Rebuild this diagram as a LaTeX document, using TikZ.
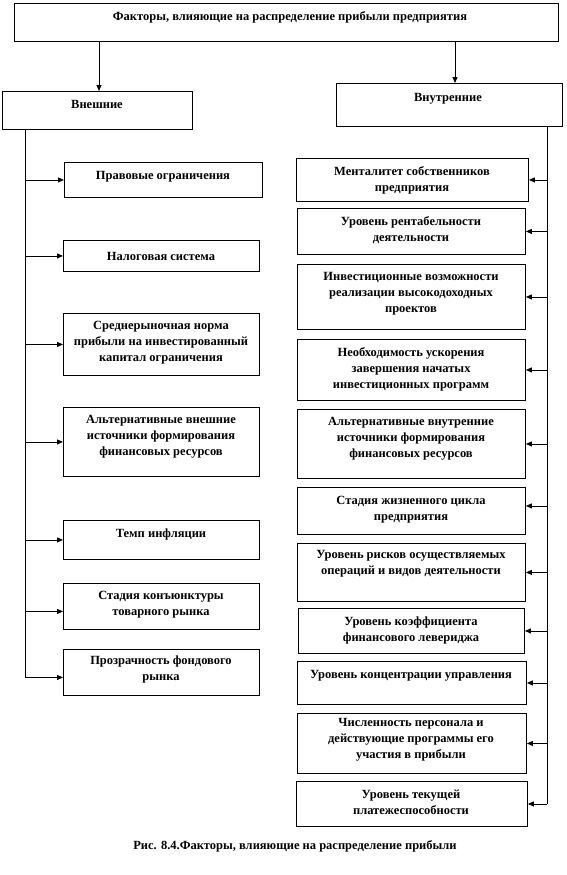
\documentclass[tikz,border=0pt]{standalone}
\usepackage{fontspec}
\setmainfont{Liberation Serif}
\usetikzlibrary{arrows.meta}
\begin{document}
\begin{tikzpicture}[x=1pt,y=-1pt,
  box/.style={draw,line width=0.9pt,rectangle,inner sep=0pt,anchor=north west},
  txt/.style={align=center,inner sep=0pt,font=\bfseries\fontsize{12.5}{16}\selectfont},
  arr/.style={line width=0.9pt,-{Triangle[length=6pt,width=5pt]}},
  ln/.style={line width=0.9pt}]
\useasboundingbox (0,0) rectangle (566,875);
% top
\node[box,minimum width=544pt,minimum height=38pt] (top) at (14,3) {};
\node[txt] (toptx) at (290,17) {Факторы, влияющие на распределение прибыли предприятия};
\node[box,minimum width=190pt,minimum height=38pt] (ext) at (2,91) {};
\node[txt] (exttx) at (97,104) {Внешние};
\node[box,minimum width=226pt,minimum height=43pt] (int) at (336,83) {};
\node[txt] (inttx) at (448,99) {Внутренние};
\coordinate (la) at (99,0);
\coordinate (ra) at (455,0);
\draw[arr] (top.south -| la) -- (ext.north -| la);
\draw[arr] (top.south -| ra) -- (int.north -| ra);
% left boxes
\node[box,minimum width=198pt,minimum height=35pt] (l1) at (64,162) {};
\node[txt] at (163,177) {Правовые ограничения};
\node[box,minimum width=196pt,minimum height=31pt] (l2) at (63,240) {};
\node[txt] at (161,256) {Налоговая система};
\node[box,minimum width=196pt,minimum height=62pt] (l3) at (63,313) {};
\node[txt] at (161,343) {Среднерыночная норма\\прибыли на инвестированный\\капитал ограничения};
\node[box,minimum width=196pt,minimum height=69pt] (l4) at (63,407) {};
\node[txt] at (161,437) {Альтернативные внешние\\источники формирования\\финансовых ресурсов};
\node[box,minimum width=196pt,minimum height=39pt] (l5) at (63,520) {};
\node[txt] at (161,534) {Темп инфляции};
\node[box,minimum width=196pt,minimum height=46pt] (l6) at (63,583) {};
\node[txt] at (161,605) {Стадия конъюнктуры\\товарного рынка};
\node[box,minimum width=196pt,minimum height=46pt] (l7) at (63,649) {};
\node[txt] at (161,669) {Прозрачность фондового\\рынка};
\coordinate (lv) at (25,0);
\coordinate (l6a) at ([yshift=-5pt]l6.west);
\coordinate (l7a) at ([yshift=-5pt]l7.west);
\draw[ln] (ext.south -| lv) -- (lv |- l7a);
\foreach \b in {l1,l2,l3,l4,l5} \draw[arr] (lv |- \b.west) -- (\b.west);
\draw[arr] (lv |- l6a) -- (l6a);
\draw[arr] (lv |- l7a) -- (l7a);
% right boxes
\node[box,minimum width=232pt,minimum height=43pt] (r1) at (296,158) {};
\node[txt] at (412,180) {Менталитет собственников\\предприятия};
\node[box,minimum width=228pt,minimum height=46pt] (r2) at (297,208) {};
\node[txt] at (411,230) {Уровень рентабельности\\деятельности};
\node[box,minimum width=228pt,minimum height=65pt] (r3) at (297,264) {};
\node[txt] at (411,294) {Инвестиционные возможности\\реализации высокодоходных\\проектов};
\node[box,minimum width=228pt,minimum height=61pt] (r4) at (297,339) {};
\node[txt] at (411,369) {Необходимость ускорения\\завершения начатых\\инвестиционных программ};
\node[box,minimum width=228pt,minimum height=69pt] (r5) at (297,409) {};
\node[txt] at (411,439) {Альтернативные внутренние\\источники формирования\\финансовых ресурсов};
\node[box,minimum width=228pt,minimum height=47pt] (r6) at (297,487) {};
\node[txt] at (411,510) {Стадия жизненного цикла\\предприятия};
\node[box,minimum width=228pt,minimum height=58pt] (r7) at (297,543) {};
\node[txt] at (411,564) {Уровень рисков осуществляемых\\операций и видов деятельности};
\node[box,minimum width=226pt,minimum height=45pt] (r8) at (298,608) {};
\node[txt] at (411,630) {Уровень коэффициента\\финансового левериджа};
\node[box,minimum width=229pt,minimum height=43pt] (r9) at (297,661) {};
\node[txt] at (411,676) {Уровень концентрации управления};
\node[box,minimum width=229pt,minimum height=60pt] (r10) at (297,713) {};
\node[txt] at (411,740) {Численность персонала и\\действующие программы его\\участия в прибыли};
\node[box,minimum width=231pt,minimum height=45pt] (r11) at (296,781) {};
\node[txt] at (411,802) {Уровень текущей\\платежеспособности};
\coordinate (rv) at (547,0);
\coordinate (r6a) at ([yshift=5pt]r6.east);
\draw[ln] (int.south -| rv) -- (rv |- r11.east);
\foreach \b in {r1,r2,r3,r4,r5,r7,r8,r9,r10,r11} \draw[arr] (rv |- \b.east) -- (\b.east);
\draw[arr] (rv |- r6a) -- (r6a);
% caption
\node[txt] (cap) at (295,846) {Рис. 8.4.Факторы,  влияющие на распределение прибыли};
\end{tikzpicture}
\end{document}
